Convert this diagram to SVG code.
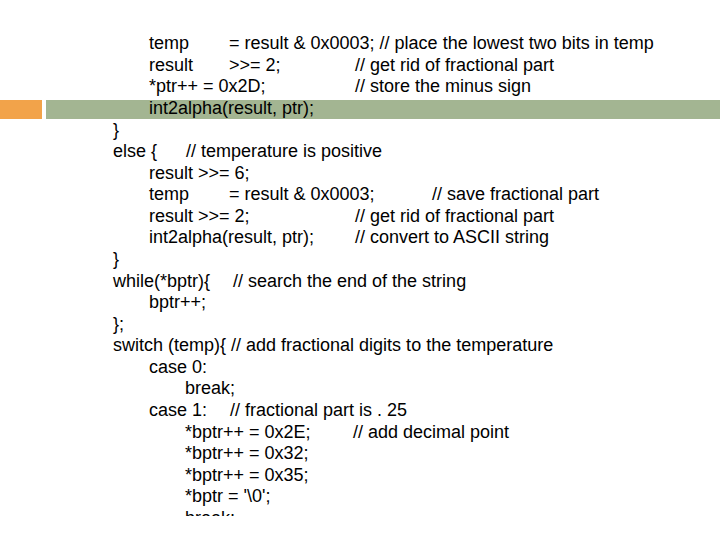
<svg xmlns="http://www.w3.org/2000/svg" width="720" height="540" viewBox="0 0 720 540">
<style>text{font-family:"Liberation Sans",Arial,sans-serif;font-size:18px;fill:#000;white-space:pre}</style>
<defs><clipPath id="c"><rect x="0" y="0" width="720" height="516"/></clipPath></defs>
<rect width="720" height="540" fill="#fff"/>
<rect x="0" y="100" width="42" height="19" fill="#F2A34A"/>
<rect x="46" y="100" width="674" height="19" fill="#A3B592"/>
<g id="code" clip-path="url(#c)">
<text x="149" y="49">temp</text><text x="229" y="49">= result &amp; 0x0003; // place the lowest two bits in temp</text>
<text x="149" y="71">result</text><text x="229" y="71">&gt;&gt;= 2;</text><text x="355" y="71">// get rid of fractional part</text>
<text x="149" y="92">*ptr++ = 0x2D;</text><text x="355" y="92">// store the minus sign</text>
<text x="149" y="114">int2alpha(result, ptr);</text>
<text x="113" y="136">}</text>
<text x="113" y="157">else {</text><text x="186" y="157">// temperature is positive</text>
<text x="149" y="179">result &gt;&gt;= 6;</text>
<text x="149" y="200">temp</text><text x="229" y="200">= result &amp; 0x0003;</text><text x="432" y="200">// save fractional part</text>
<text x="149" y="222">result &gt;&gt;= 2;</text><text x="355" y="222">// get rid of fractional part</text>
<text x="149" y="243">int2alpha(result, ptr);</text><text x="355" y="243">// convert to ASCII string</text>
<text x="113" y="265">}</text>
<text x="113" y="287">while(*bptr){</text><text x="233" y="287">// search the end of the string</text>
<text x="149" y="308">bptr++;</text>
<text x="113" y="330">};</text>
<text x="113" y="351">switch (temp){ // add fractional digits to the temperature</text>
<text x="149" y="373">case 0:</text>
<text x="185" y="394">break;</text>
<text x="149" y="416">case 1:</text><text x="230" y="416">// fractional part is . 25</text>
<text x="185" y="438">*bptr++ = 0x2E;</text><text x="353" y="438">// add decimal point</text>
<text x="185" y="459">*bptr++ = 0x32;</text>
<text x="185" y="481">*bptr++ = 0x35;</text>
<text x="185" y="502">*bptr = '\0';</text>
<text x="185" y="524">break;</text>
</g>
</svg>
